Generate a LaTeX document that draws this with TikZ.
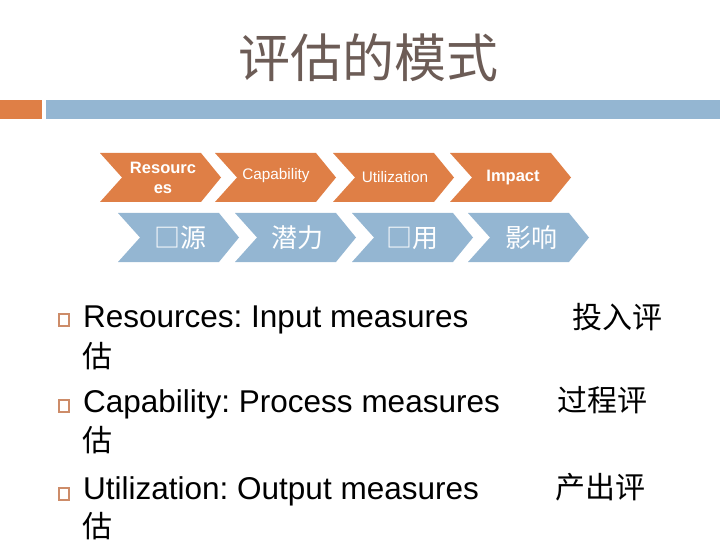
\documentclass[tikz,border=0pt]{standalone}
\usepackage{fontspec}
\setmainfont{Liberation Sans}
\newfontfamily\cjk{Noto Sans CJK SC}
\definecolor{accorange}{RGB}{223,127,70}
\definecolor{accblue}{RGB}{148,182,210}
\definecolor{titlebrown}{RGB}{108,92,86}
\definecolor{bulletc}{RGB}{205,140,105}
\frenchspacing
\begin{document}
\begin{tikzpicture}[x=1pt,y=-1pt,
  chevtext/.style={text=white,inner sep=0pt,align=center},
  orangebig/.style={chevtext,font=\fontsize{16.5}{20}\selectfont\bfseries},
  orangesmall/.style={chevtext,font=\fontsize{15.3}{18}\selectfont},
  bluetext/.style={chevtext,font=\cjk\fontsize{26}{30}\selectfont},
  bodytext/.style={anchor=base west,inner sep=0pt,font=\fontsize{31.5}{38}\selectfont},
  bodycjk/.style={anchor=base west,inner sep=0pt,font=\cjk\fontsize{30}{36}\selectfont},
  bulletbox/.style={draw=bulletc,line width=2pt,minimum width=10.5pt,minimum height=11.5pt,inner sep=0pt}]
\useasboundingbox (0,0) rectangle (720,540);
% title
\node[font=\cjk\fontsize{52}{60}\selectfont,text=titlebrown,inner sep=0pt] (title) at (368,58) {评估的模式};
% bars
\fill[accorange] (0,100) rectangle (42,119);
\fill[accblue] (46,100) rectangle (720,119);
% chevrons
\foreach \L in {100,215,333,450}{
  \fill[accorange] (\L,153) -- ++(101,0) -- ++(20,24.5) -- ++(-20,24.5) -- ++(-101,0) -- ++(22,-24.5) -- cycle;}
\foreach \L in {118,235,352,468}{
  \fill[accblue] (\L,213) -- ++(101,0) -- ++(20,24.5) -- ++(-20,24.5) -- ++(-101,0) -- ++(22,-24.5) -- cycle;}
\node[orangebig] (o1) at (163,178) {Resourc\\es};
\node[orangesmall] (o2) at (276,176) {Capability};
\node[orangesmall] (o3) at (395,177) {Utilization};
\node[orangebig] (o4) at (513,178) {Impact};
\node[bluetext] (b1) at (180,238) {□源};
\node[bluetext] (b2) at (297,238) {潜力};
\node[bluetext] (b3) at (412,238) {□用};
\node[bluetext] (b4) at (531,238) {影响};
% bullets
\node[bulletbox] (s1) at (64,320) {};
\node[bulletbox] (s2) at (64,406) {};
\node[bulletbox] (s3) at (64,494) {};
\node[bodytext] (t1) at (83,327) {Resources: Input measures};
\node[bodycjk] (c1) at (572,328) {投入评};
\node[bodycjk] (d1) at (82,367) {估};
\node[bodytext] (t2) at (83,412) {Capability: Process measures};
\node[bodycjk] (c2) at (557,411) {过程评};
\node[bodycjk] (d2) at (82,451) {估};
\node[bodytext] (t3) at (83,499) {Utilization: Output measures};
\node[bodycjk] (c3) at (555,498) {产出评};
\node[bodycjk] (d3) at (82,537) {估};
\end{tikzpicture}
\end{document}
